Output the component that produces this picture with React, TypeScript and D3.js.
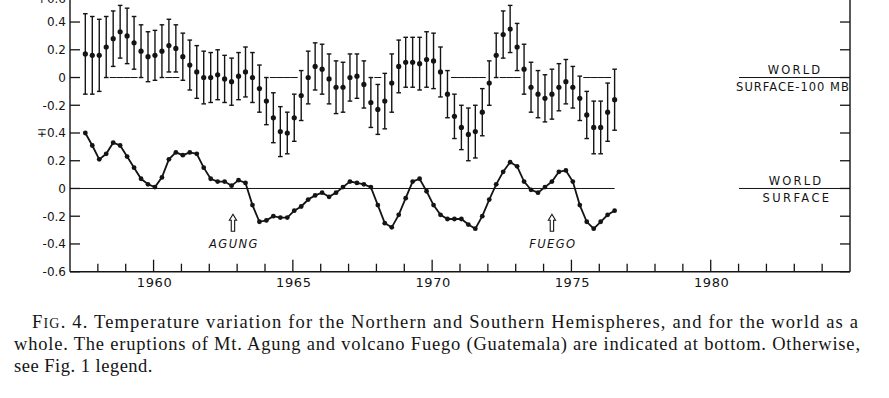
import * as d3 from "d3";

// seasonal means, decimal year of each season
const seasons: number[] = [
  1957.55, 1957.8,
  1958.05, 1958.3, 1958.55, 1958.8,
  1959.05, 1959.3, 1959.55, 1959.8,
  1960.05, 1960.3, 1960.55, 1960.8,
  1961.05, 1961.3, 1961.55, 1961.8,
  1962.05, 1962.3, 1962.55, 1962.8,
  1963.05, 1963.3, 1963.55, 1963.8,
  1964.05, 1964.3, 1964.55, 1964.8,
  1965.05, 1965.3, 1965.55, 1965.8,
  1966.05, 1966.3, 1966.55, 1966.8,
  1967.05, 1967.3, 1967.55, 1967.8,
  1968.05, 1968.3, 1968.55, 1968.8,
  1969.05, 1969.3, 1969.55, 1969.8,
  1970.05, 1970.3, 1970.55, 1970.8,
  1971.05, 1971.3, 1971.55, 1971.8,
  1972.05, 1972.3, 1972.55, 1972.8,
  1973.05, 1973.3, 1973.55, 1973.8,
  1974.05, 1974.3, 1974.55, 1974.8,
  1975.05, 1975.3, 1975.55, 1975.8,
  1976.05, 1976.3, 1976.55,
];

// world surface-100mb (upper curve), with half length of the error bars
const surface100mb: number[] = [
  0.17, 0.16, 0.16, 0.22, 0.28, 0.33, 0.3, 0.25, 0.19, 0.15,
  0.16, 0.19, 0.23, 0.21, 0.15, 0.09, 0.04, 0.0, 0.0, 0.02,
  -0.01, -0.03, 0.01, 0.04, 0.0, -0.08, -0.17, -0.29, -0.39, -0.4,
  -0.29, -0.13, 0.0, 0.08, 0.06, -0.01, -0.07, -0.07, 0.0, 0.01,
  -0.05, -0.18, -0.23, -0.17, -0.04, 0.08, 0.11, 0.11, 0.1, 0.13,
  0.12, 0.04, -0.12, -0.28, -0.36, -0.41, -0.39, -0.25, -0.04, 0.16,
  0.31, 0.35, 0.22, 0.06, -0.07, -0.12, -0.15, -0.12, -0.07, -0.03,
  -0.07, -0.15, -0.27, -0.36, -0.36, -0.25, -0.16,
];
const surface100mbErr: number[] = [
  0.29, 0.28, 0.26, 0.22, 0.2, 0.19, 0.2, 0.19, 0.19, 0.18,
  0.18, 0.19, 0.19, 0.17, 0.17, 0.18, 0.19, 0.19, 0.18, 0.18,
  0.17, 0.17, 0.17, 0.18, 0.18, 0.17, 0.17, 0.18, 0.18, 0.15,
  0.17, 0.18, 0.19, 0.17, 0.18, 0.18, 0.19, 0.18, 0.17, 0.16,
  0.17, 0.18, 0.18, 0.2, 0.21, 0.19, 0.18, 0.18, 0.19, 0.2,
  0.2, 0.18, 0.17, 0.16, 0.16, 0.19, 0.19, 0.17, 0.16, 0.16,
  0.17, 0.17, 0.17, 0.18, 0.18, 0.17, 0.17, 0.18, 0.17, 0.16,
  0.15, 0.16, 0.17, 0.19, 0.19, 0.21, 0.22,
];

// world surface (lower curve)
const worldSurface: number[] = [
  0.4, 0.31, 0.21, 0.25, 0.33, 0.31, 0.23, 0.15, 0.07, 0.03,
  0.01, 0.08, 0.21, 0.26, 0.24, 0.26, 0.25, 0.15, 0.07, 0.05,
  0.05, 0.02, 0.06, 0.04, -0.12, -0.24, -0.23, -0.2, -0.21, -0.21,
  -0.16, -0.13, -0.08, -0.05, -0.03, -0.06, -0.03, 0.01, 0.05, 0.04,
  0.03, 0.01, -0.12, -0.25, -0.28, -0.19, -0.07, 0.05, 0.07, -0.02,
  -0.12, -0.19, -0.22, -0.22, -0.22, -0.26, -0.29, -0.2, -0.08, 0.03,
  0.12, 0.19, 0.16, 0.05, -0.01, -0.03, 0.01, 0.05, 0.12, 0.13,
  0.05, -0.12, -0.24, -0.29, -0.24, -0.19, -0.16,
];

// upper curve is drawn 0.8 above the lower one on a shared axis
const upperOffset = 0.8;

const yTicks = [-0.6, -0.4, -0.2, 0, 0.2, 0.4, 0.6, 0.8, 1.0, 1.2, 1.4];
const yTickLabels = ["-0.6", "-0.4", "-0.2", "0", "0.2", "\u22130.4", "-0.2", "0", "0.2", "0.4", "+0.6"];
const majorYears = [1960, 1965, 1970, 1975, 1980];

const eruptionNames = ["AGUNG", "FUEGO"];
const eruptionYears = [1962.85, 1974.3];

const captionLines = [
  "Temperature variation for the Northern and Southern Hemispheres, and for the world as a",
  "whole. The eruptions of Mt. Agung and volcano Fuego (Guatemala) are indicated at bottom. Otherwise,",
  "see Fig. 1 legend.",
];

const W = 889;
const H = 398;
const ink = "#141414";
const sans = "'DejaVu Sans', sans-serif";

export default function App() {
  const x = d3.scaleLinear().domain([1957, 1985]).range([70, 850]);
  const y = d3.scaleLinear().domain([-0.6, 1.4]).range([271.7, -5.7]);
  const bottom = y(-0.6);
  const left = x.range()[0];
  const right = x.range()[1];

  const minorYears = d3.range(1958, 1985).filter((yr) => !majorYears.includes(yr));

  const surfaceLine = d3
    .line<number>()
    .x((_, i) => x(seasons[i]))
    .y((d) => y(d));

  // the drafter only drew the upper zero line where no error bar crosses it
  const zeroSegs = surface100mb
    .map((v, i) => ({ v, i }))
    .filter(({ v, i }) => v - surface100mbErr[i] > 0 || v + surface100mbErr[i] < 0);

  const lastSeason = seasons[seasons.length - 1];

  const arrow = (cx: number, top: number) =>
    `M${cx},${top} L${cx + 3.6},${top + 6} L${cx + 1.7},${top + 6} L${cx + 1.7},${top + 17} ` +
    `L${cx - 1.7},${top + 17} L${cx - 1.7},${top + 6} L${cx - 3.6},${top + 6} Z`;

  return (
    <svg
      width={W}
      height={H}
      style={{ position: "absolute", left: 0, top: 0, background: "#fff" }}
    >
      {/* frame */}
      <g stroke={ink} strokeWidth={1.4} fill="none">
        <line x1={left} x2={left} y1={-10} y2={bottom} />
        <line x1={right} x2={right} y1={-10} y2={bottom} />
        <line x1={left} x2={right} y1={bottom} y2={bottom} />
      </g>

      {/* y ticks, both sides pointing inward */}
      {yTicks.map((t, i) => (
        <g key={"yt" + i}>
          <line x1={left} x2={left + 10} y1={y(t)} y2={y(t)} stroke={ink} strokeWidth={1.3} />
          <line x1={right - 10} x2={right} y1={y(t)} y2={y(t)} stroke={ink} strokeWidth={1.3} />
          <text
            x={66}
            y={Math.max(y(t) + 4.3, 3)}
            textAnchor="end"
            fontFamily={sans}
            fontSize={12}
            fill={ink}
          >
            {yTickLabels[i]}
          </text>
        </g>
      ))}

      {/* x ticks */}
      {minorYears.map((yr) => (
        <line key={"mx" + yr} x1={x(yr)} x2={x(yr)} y1={bottom} y2={bottom - 8} stroke={ink} strokeWidth={1.3} />
      ))}
      {majorYears.map((yr) => (
        <g key={"Mx" + yr}>
          <line x1={x(yr)} x2={x(yr)} y1={bottom} y2={bottom - 12} stroke={ink} strokeWidth={1.3} />
          <text
            x={x(yr) + 1}
            y={bottom + 15.5}
            textAnchor="middle"
            fontFamily={sans}
            fontSize={13}
            letterSpacing={0.6}
            fill={ink}
          >
            {yr}
          </text>
        </g>
      ))}

      {/* zero lines */}
      <line
        x1={left}
        x2={x(lastSeason)}
        y1={y(0)}
        y2={y(0)}
        stroke={ink}
        strokeWidth={1}
      />
      {zeroSegs.map(({ i }) => (
        <line
          key={"z" + i}
          x1={x(seasons[i] - 0.125)}
          x2={x(seasons[i] + 0.125)}
          y1={y(upperOffset)}
          y2={y(upperOffset)}
          stroke={ink}
          strokeWidth={1}
        />
      ))}

      {/* upper series: error bars */}
      {surface100mb.map((v, i) => {
        const cx = x(seasons[i]);
        const hi = y(v + surface100mbErr[i] + upperOffset);
        const lo = y(v - surface100mbErr[i] + upperOffset);
        return (
          <g key={"eb" + i} stroke={ink} strokeWidth={1.4}>
            <line x1={cx} x2={cx} y1={hi} y2={lo} />
            <line x1={cx - 2.3} x2={cx + 2.3} y1={hi} y2={hi} />
            <line x1={cx - 2.3} x2={cx + 2.3} y1={lo} y2={lo} />
          </g>
        );
      })}
      {surface100mb.map((v, i) => (
        <circle key={"ud" + i} cx={x(seasons[i])} cy={y(v + upperOffset)} r={2.6} fill={ink} />
      ))}

      {/* lower series */}
      <path d={surfaceLine(worldSurface) ?? ""} fill="none" stroke={ink} strokeWidth={1.8} />
      {worldSurface.map((v, i) => (
        <circle key={"ld" + i} cx={x(seasons[i])} cy={y(v)} r={2.4} fill={ink} />
      ))}

      {/* series labels at the right */}
      <g fontFamily={sans} fontSize={11.5} fill={ink} textAnchor="middle">
        <line x1={739} x2={right} y1={y(upperOffset)} y2={y(upperOffset)} stroke={ink} strokeWidth={1} />
        <text x={795} y={y(upperOffset) - 3.5} letterSpacing={2.2}>WORLD</text>
        <text x={793} y={y(upperOffset) + 13.5} letterSpacing={1}>SURFACE-100 MB</text>
        <line x1={739} x2={right} y1={y(0)} y2={y(0)} stroke={ink} strokeWidth={1} />
        <text x={796} y={y(0) - 3.5} letterSpacing={2.2}>WORLD</text>
        <text x={797} y={y(0) + 14} letterSpacing={2.4}>SURFACE</text>
      </g>

      {/* eruptions */}
      {eruptionNames.map((name, i) => (
        <g key={name}>
          <path d={arrow(x(eruptionYears[i]), bottom - 57.5)} fill="#fff" stroke={ink} strokeWidth={1.1} />
          <text
            x={x(eruptionYears[i]) + 1}
            y={bottom - 23.5}
            textAnchor="middle"
            fontFamily={sans}
            fontStyle="italic"
            fontSize={11.5}
            letterSpacing={1.4}
            fill={ink}
          >
            {name}
          </text>
        </g>
      ))}

      {/* caption */}
      <g fontFamily="'Liberation Serif', serif" fontSize={18.5} fill={ink}>
        <text x={32} y={328} textLength={826} lengthAdjust="spacing">
          F<tspan fontSize={14}>IG</tspan>. 4. {captionLines[0]}
        </text>
        <text x={14} y={350} textLength={846} lengthAdjust="spacing">
          {captionLines[1]}
        </text>
        <text x={14} y={372} letterSpacing={0.5}>
          {captionLines[2]}
        </text>
      </g>
    </svg>
  );
}
